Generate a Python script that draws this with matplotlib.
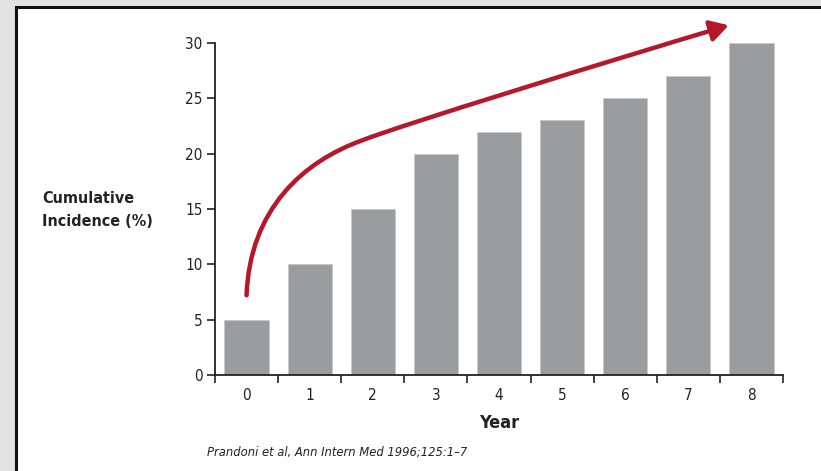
#!/usr/bin/python3

import matplotlib
matplotlib.use("Agg")
import matplotlib.pyplot as plt
from matplotlib.patches import Rectangle, FancyArrowPatch
from matplotlib.path import Path

# data
years = [0, 1, 2, 3, 4, 5, 6, 7, 8]
incidence = [5, 10, 15, 20, 22, 23, 25, 27, 30]
yticks = [0, 5, 10, 15, 20, 25, 30]

# trend arrow (two bezier segments, data coords)
arrow_pts = [(0.0, 7.2), (0.05, 15.0), (0.9, 19.3), (1.83, 21.2),
             (2.43, 22.55), (5.7, 28.3), (7.64, 31.6)]

#_____________________________________________________________________________
def main():

    plt.rcParams["font.family"] = ["Liberation Sans Narrow", "DejaVu Sans"]
    plt.rcParams["font.stretch"] = "condensed"

    fig = plt.figure(figsize=(8.21, 4.71), dpi=100)
    fig.patch.set_facecolor("#e3e3e3")

    # white panel with black frame (runs off right and bottom)
    panel = Rectangle((16/821, -0.05), 1.0, 1 - 7/471 + 0.05, transform=fig.transFigure,
                      facecolor="white", edgecolor="#111111", lw=2.2, zorder=-10)
    fig.patches.append(panel)

    ax = fig.add_axes([215/821, 96/471, 568/821, 332/471])
    ax.set_facecolor("none")

    ax.bar(years, incidence, width=0.7, color="#9a9da0", edgecolor="#c8c8c8", lw=0.6, zorder=2)

    ax.set_xlim(-0.5, 8.5)
    ax.set_ylim(0, 30)

    for s in ["top", "right"]:
        ax.spines[s].set_visible(False)
    ax.spines["left"].set_linewidth(1.3)
    ax.spines["bottom"].set_linewidth(1.3)
    ax.spines["left"].set_color("#222222")
    ax.spines["bottom"].set_color("#222222")

    ax.set_yticks(yticks)
    ax.set_yticklabels([str(v) for v in yticks])
    ax.tick_params(axis="y", direction="out", length=6, width=1.2, pad=3,
                   labelsize=11, colors="#222222")

    ax.set_xticks(years)
    ax.set_xticklabels([str(v) for v in years])
    ax.set_xticks([y - 0.5 for y in years] + [years[-1] + 0.5], minor=True)
    ax.tick_params(axis="x", which="major", length=0, pad=9, labelsize=11, colors="#222222")
    ax.tick_params(axis="x", which="minor", direction="out", length=6, width=1.2, color="#222222")

    ax.set_xlabel("Year", fontsize=13, fontweight="bold", labelpad=8, color="#222222")

    fig.text(42/821, 1 - 210/471, "Cumulative\nIncidence (%)", ha="left", va="center",
             fontsize=11.5, fontweight="bold", linespacing=1.65, color="#222222")

    fig.text(207/821, 1 - 452/471, "Prandoni et al, Ann Intern Med 1996;125:1\u20137",
             ha="left", va="center", fontsize=9.3, style="italic", color="#222222")

    # trend arrow
    codes = [Path.MOVETO] + [Path.CURVE4] * 6
    arr = FancyArrowPatch(path=Path(arrow_pts, codes), transform=ax.transData,
                          arrowstyle="-|>,head_length=0.6,head_width=0.35", mutation_scale=18,
                          color="#b5172b", lw=3.2, clip_on=False, zorder=5)
    ax.add_patch(arr)

    fig.savefig("out.png", dpi=100, facecolor=fig.get_facecolor())
    plt.close()

#main

#_____________________________________________________________________________
if __name__ == "__main__":

    main()
